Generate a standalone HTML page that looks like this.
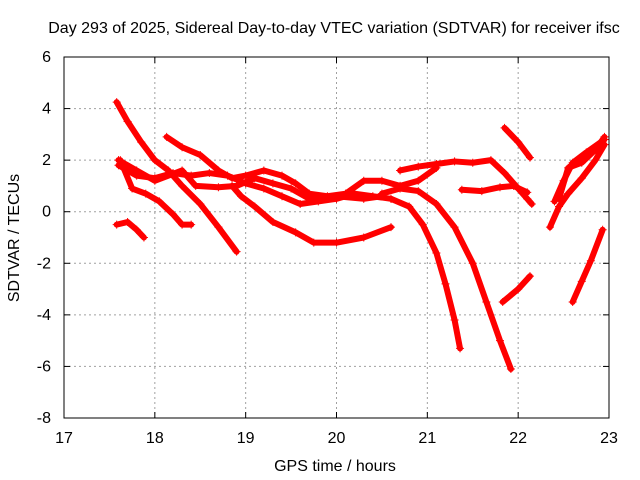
<!DOCTYPE html>
<html><head><meta charset="utf-8"><style>
body{margin:0;background:#fff}
svg{display:block;font-family:"Liberation Sans",sans-serif}
</style></head><body>
<svg id="c" width="640" height="480">
<text x="334" y="33" text-anchor="middle" font-size="16">Day 293 of 2025, Sidereal Day-to-day VTEC variation (SDTVAR) for receiver ifsc</text>
<text x="335" y="471" text-anchor="middle" font-size="16">GPS time / hours</text>
<text transform="translate(19,238) rotate(-90)" text-anchor="middle" font-size="16">SDTVAR / TECUs</text>
<g id="grid"></g><g id="marks"></g>
<rect x="64" y="57" width="545" height="361" fill="none" stroke="#000"/>
</svg>
<script>
const xTicks=[17,18,19,20,21,22,23];
const yTicks=[-8,-6,-4,-2,0,2,4,6];
const trackA=[[17.58,4.25],[17.7,3.5],[17.85,2.7],[18.0,2.0],[18.15,1.6],[18.3,1.0],[18.5,0.3],[18.7,-0.6],[18.9,-1.55]];
const trackB=[[18.13,2.9],[18.3,2.5],[18.5,2.2],[18.7,1.6],[18.85,1.3],[19.0,1.4],[19.2,1.6],[19.4,1.4],[19.55,1.1],[19.7,0.7],[19.9,0.6],[20.1,0.7],[20.3,1.2],[20.5,1.2],[20.7,1.0],[20.9,1.2],[21.1,1.7]];
const trackC=[[17.6,1.8],[17.8,1.4],[18.0,1.3],[18.2,1.5],[18.4,1.4],[18.6,1.5],[18.8,1.4],[19.0,1.1],[19.2,0.9],[19.4,0.6],[19.6,0.3],[19.8,0.4],[20.0,0.5],[20.2,0.7],[20.4,0.6],[20.6,0.5]];
const trackD=[[20.6,0.5],[20.8,0.2],[20.95,-0.5],[21.1,-1.6],[21.2,-2.8],[21.3,-4.2],[21.36,-5.3]];
const trackE=[[20.5,0.7],[20.7,0.9],[20.9,0.8],[21.1,0.3],[21.3,-0.6],[21.5,-2.0],[21.65,-3.5],[21.8,-5.0],[21.92,-6.1]];
const trackF=[[17.62,2.0],[17.75,0.9],[17.9,0.7],[18.05,0.4],[18.2,-0.1],[18.3,-0.5],[18.4,-0.5]];
const trackG=[[18.85,1.0],[18.95,0.6],[19.1,0.2],[19.3,-0.4],[19.55,-0.8],[19.75,-1.2],[20.0,-1.2],[20.3,-1.0],[20.6,-0.6]];
const trackH=[[17.58,-0.5],[17.7,-0.4],[17.8,-0.7],[17.88,-1.0]];
const trackI=[[17.6,2.0],[17.8,1.6],[18.0,1.2],[18.3,1.6],[18.45,1.0],[18.7,0.95],[18.9,1.0],[19.1,1.3],[19.3,1.1],[19.5,0.9],[19.7,0.5],[20.0,0.6],[20.3,0.5],[20.5,0.6]];
const trackJ=[[20.7,1.6],[20.9,1.75],[21.1,1.85],[21.3,1.95],[21.5,1.9],[21.7,2.0],[21.85,1.5],[22.0,0.9],[22.1,0.5],[22.15,0.3]];
const trackK=[[21.38,0.85],[21.6,0.8],[21.8,0.95],[21.95,1.0],[22.1,0.75]];
const trackL=[[21.85,3.25],[22.0,2.7],[22.13,2.1]];
const trackM=[[21.83,-3.5],[22.0,-3.0],[22.13,-2.5]];
const trackN1=[[22.35,-0.6],[22.45,0.2],[22.55,0.7],[22.7,1.3],[22.85,2.0],[22.95,2.6]];
const trackN2=[[22.4,0.4],[22.5,1.2],[22.6,1.9],[22.75,2.3],[22.95,2.8]];
const trackN3=[[22.45,0.5],[22.55,1.7],[22.7,1.9],[22.85,2.4],[22.95,2.9]];
const trackO=[[22.6,-3.5],[22.7,-2.7],[22.8,-1.9],[22.93,-0.7]];
const tracks=[trackA,trackB,trackC,trackD,trackE,trackF,trackG,trackH,trackI,trackJ,trackK,trackL,trackM,trackN1,trackN2,trackN3,trackO];
const X=t=>64+(t-17)*545/6, Y=v=>57+(6-v)*361/14;
const NS="http://www.w3.org/2000/svg";
const grid=document.getElementById('grid'),marks=document.getElementById('marks');
function mk(tag,a,p){const e=document.createElementNS(NS,tag);for(const k in a)e.setAttribute(k,a[k]);p.appendChild(e);return e;}
xTicks.forEach(t=>{const x=X(t);
 if(t>17&&t<23){const g=mk('line',{x1:x,x2:x,y1:57,y2:418,stroke:'#a0a0a0','stroke-dasharray':'2,3'},grid);
 
 }
 mk('line',{x1:x,x2:x,y1:418,y2:412,stroke:'#000'},grid);mk('line',{x1:x,x2:x,y1:57,y2:63,stroke:'#000'},grid);
 const l=mk('text',{x:x,y:443,'text-anchor':'middle','font-size':16},grid);l.textContent=t;
 
 });
yTicks.forEach(v=>{const y=Y(v);
 if(v>-8&&v<6){const g=mk('line',{x1:64,x2:609,y1:y,y2:y,stroke:'#a0a0a0','stroke-dasharray':'2,3'},grid);
 
 }
 mk('line',{x1:64,x2:70,y1:y,y2:y,stroke:'#000'},grid);mk('line',{x1:609,x2:603,y1:y,y2:y,stroke:'#000'},grid);
 const l=mk('text',{x:51,y:y+5,'text-anchor':'end','font-size':16},grid);l.textContent=v;
 
 });
tracks.forEach(tr=>{
 const p=mk('polyline',{points:tr.map(d=>X(d[0])+','+Y(d[1])).join(' '),fill:'none',stroke:'#f00','stroke-width':6,'stroke-linejoin':'round','stroke-linecap':'round'},marks);
 
 
 tr.forEach(d=>{const x=X(d[0]),y=Y(d[1]);
  const m=mk('path',{d:`M${x-4},${y}h8M${x},${y-4}v8`,stroke:'#f00','stroke-width':1},marks);
  
  });
});
</script>
</body></html>
